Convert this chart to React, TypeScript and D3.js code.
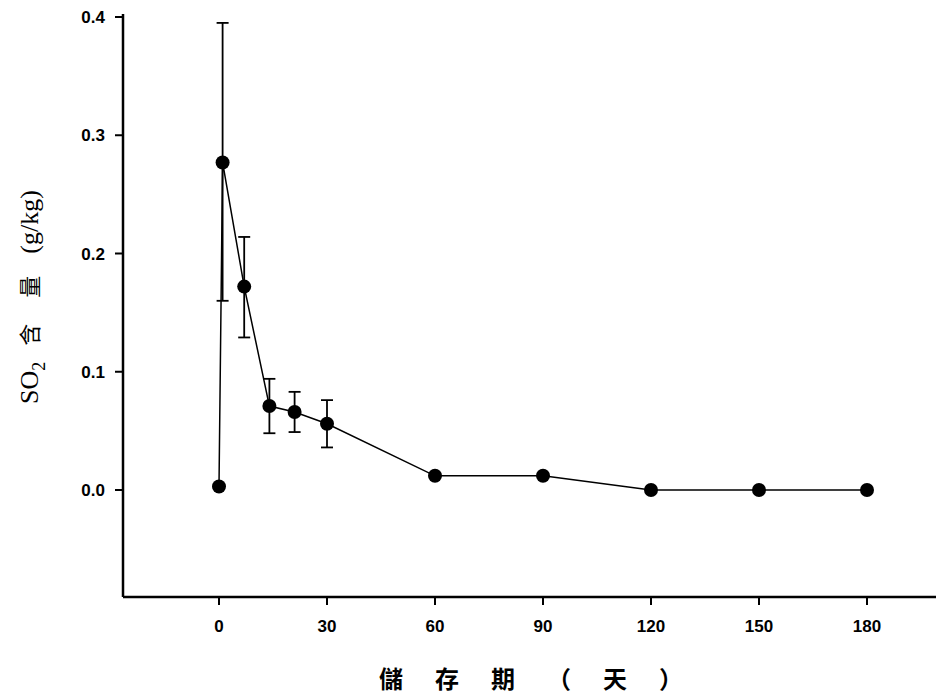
import React from "react";
import * as d3 from "d3";

const days = [0, 1, 7, 14, 21, 30, 60, 90, 120, 150, 180];
const so2 = [0.003, 0.277, 0.172, 0.071, 0.066, 0.056, 0.012, 0.012, 0.0, 0.0, 0.0];
const errUp = [0, 0.118, 0.042, 0.023, 0.017, 0.02, 0, 0, 0, 0, 0];
const errDown = [0, 0.117, 0.043, 0.023, 0.017, 0.02, 0, 0, 0, 0, 0];
const xTicks = [0, 30, 60, 90, 120, 150, 180];
const yTicks = [0.0, 0.1, 0.2, 0.3, 0.4];

export default function App() {
  const x = d3.scaleLinear().domain([0, 180]).range([219, 867]);
  const y = d3.scaleLinear().domain([0, 0.4]).range([490, 17]);
  const x0 = 123, yB = 597;
  const line = d3.line<number>().x((_, i) => x(days[i])).y((d) => y(d));
  const font = "Liberation Sans, Arial, sans-serif";
  return (
    <svg width={936} height={699} style={{ position: "absolute", left: 0, top: 0, background: "#fff" }}>
      <line x1={x0} x2={x0} y1={14} y2={yB} stroke="#000" strokeWidth={2.5} />
      <line x1={x0} x2={936} y1={yB} y2={yB} stroke="#000" strokeWidth={2.5} />
      {yTicks.map((t) => (
        <g key={t}>
          <line x1={x0 - 8} x2={x0} y1={y(t)} y2={y(t)} stroke="#000" strokeWidth={2} />
          <text x={x0 - 18} y={y(t) + 6} textAnchor="end" fontFamily={font} fontWeight="bold" fontSize={17}>{t.toFixed(1)}</text>
        </g>
      ))}
      {xTicks.map((t) => (
        <g key={t}>
          <line x1={x(t)} x2={x(t)} y1={yB} y2={yB + 8} stroke="#000" strokeWidth={2} />
          <text x={x(t)} y={yB + 35} textAnchor="middle" fontFamily={font} fontWeight="bold" fontSize={17}>{t}</text>
        </g>
      ))}
      <path d={line(so2) || ""} fill="none" stroke="#000" strokeWidth={1.5} />
      {days.map((dd, i) =>
        errUp[i] > 0 ? (
          <g key={"e" + i} stroke="#000" strokeWidth={1.8}>
            <line x1={x(dd)} x2={x(dd)} y1={y(so2[i] + errUp[i])} y2={y(so2[i] - errDown[i])} />
            <line x1={x(dd) - 6} x2={x(dd) + 6} y1={y(so2[i] + errUp[i])} y2={y(so2[i] + errUp[i])} />
            <line x1={x(dd) - 6} x2={x(dd) + 6} y1={y(so2[i] - errDown[i])} y2={y(so2[i] - errDown[i])} />
          </g>
        ) : null
      )}
      {days.map((dd, i) => (
        <circle key={"c" + i} cx={x(dd)} cy={y(so2[i])} r={7} fill="#000" />
      ))}
      <text transform="translate(38,297) rotate(-90)" textAnchor="middle" fontFamily="Liberation Serif, serif" fontSize={26} fill="#000">
        SO<tspan fontSize={18} dy={7}>2</tspan><tspan dy={-7} dx={16} fontFamily="Noto Sans CJK TC" fontSize={22} letterSpacing={26} fill="#000">含量</tspan><tspan dx={-4}>(g/kg)</tspan>
      </text>
      <text x={547} y={688} textAnchor="middle" fontFamily="Noto Sans CJK TC" fontWeight="bold" fontSize={24} letterSpacing={32} fill="#000">儲存期（天）</text>
    </svg>
  );
}
